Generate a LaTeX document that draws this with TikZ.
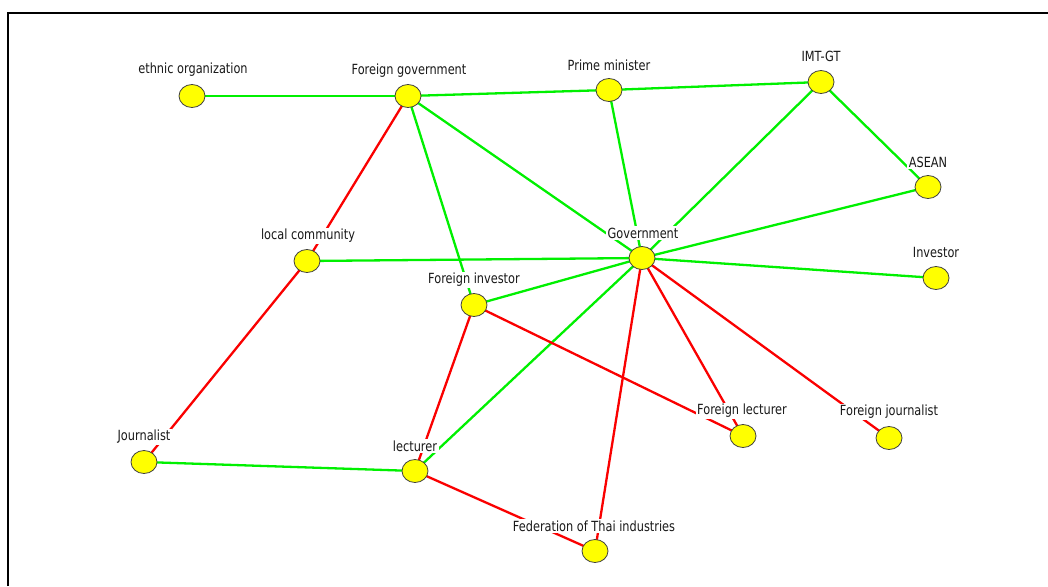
\documentclass[tikz,border=0pt]{standalone}
\usepackage{fontspec}
\setmainfont{DejaVu Sans}
\usetikzlibrary{backgrounds,shapes.geometric}
\definecolor{linkgreen}{RGB}{0,240,0}
\definecolor{linkred}{RGB}{250,0,0}
\definecolor{nodeyellow}{RGB}{255,255,0}
\tikzset{
  actor/.style={ellipse, draw=black!75, line width=0.8pt, fill=nodeyellow,
    minimum width=26pt, minimum height=23pt, inner sep=0pt},
  tag/.style={fill=white, inner sep=1.5pt, font=\fontsize{14}{16}\selectfont, text=black!90},
  ally/.style={linkgreen, line width=2.3pt},
  rival/.style={linkred, line width=2.3pt},
}
\newcommand{\lbl}[1]{\scalebox{0.81}[1]{#1}}
\begin{document}
\begin{tikzpicture}[x=1pt,y=-1pt]
\useasboundingbox (0,0) rectangle (1048,586);
% frame
\draw[line width=2pt] (8,586) -- (8,13) -- (1048,13);

% labels
\node[tag] (tEthnic) at (193,70) {\lbl{ethnic organization}};
\node[tag] (tFgov) at (409,71) {\lbl{Foreign government}};
\node[tag] (tPm) at (609,65) {\lbl{Prime minister}};
\node[tag] (tImt) at (821,56) {\lbl{IMT-GT}};
\node[tag] (tAsean) at (928,162) {\lbl{ASEAN}};
\node[tag] (tGov) at (643,233) {\lbl{Government}};
\node[tag] (tInv) at (936,252) {\lbl{Investor}};
\node[tag] (tLocal) at (308,236) {\lbl{local community}};
\node[tag] (tFinv) at (474,280) {\lbl{Foreign investor}};
\node[tag] (tFlec) at (742,411) {\lbl{Foreign lecturer}};
\node[tag] (tFjour) at (889,412) {\lbl{Foreign journalist}};
\node[tag] (tJour) at (144,437) {\lbl{Journalist}};
\node[tag] (tLec) at (415,446) {\lbl{lecturer}};
\node[tag] (tFed) at (594,526) {\lbl{Federation of Thai industries}};

% actors
\node[actor] (ethnic) at (192,96) {};
\node[actor] (fgov) at (408,96) {};
\node[actor] (pm) at (609,90) {};
\node[actor] (imt) at (821,82) {};
\node[actor] (asean) at (928,187) {};
\node[actor] (gov) at (642,258) {};
\node[actor] (inv) at (936,278) {};
\node[actor] (local) at (307,261) {};
\node[actor] (finv) at (474,305) {};
\node[actor] (flec) at (743,436) {};
\node[actor] (fjour) at (889,438) {};
\node[actor] (jour) at (144,462) {};
\node[actor] (lec) at (415,471) {};
\node[actor] (fed) at (595,551) {};

\begin{scope}[on background layer]
% cooperative ties
\draw[ally] (ethnic.center) -- (fgov.center);
\draw[ally] (fgov.center) -- (pm.center);
\draw[ally] (pm.center) -- (imt.center);
\draw[ally] (fgov.center) -- (gov.center);
\draw[ally] (fgov.center) -- (finv.center);
\draw[ally] (pm.center) -- (gov.center);
\draw[ally] (imt.center) -- (gov.center);
\draw[ally] (imt.center) -- (asean.center);
\draw[ally] (asean.center) -- (gov.center);
\draw[ally] (gov.center) -- (inv.center);
\draw[ally] (local.center) -- (gov.center);
\draw[ally] (gov.center) -- (finv.center);
\draw[ally] (gov.center) -- (lec.center);
\draw[ally] (jour.center) -- (lec.center);
% conflicting ties
\draw[rival] (fgov.center) -- (local.center);
\draw[rival] (local.center) -- (jour.center);
\draw[rival] (finv.center) -- (lec.center);
\draw[rival] (finv.center) -- (flec.center);
\draw[rival] (gov.center) -- (flec.center);
\draw[rival] (gov.center) -- (fjour.center);
\draw[rival] (gov.center) -- (fed.center);
\draw[rival] (lec.center) -- (fed.center);
\end{scope}
\end{tikzpicture}
\end{document}
